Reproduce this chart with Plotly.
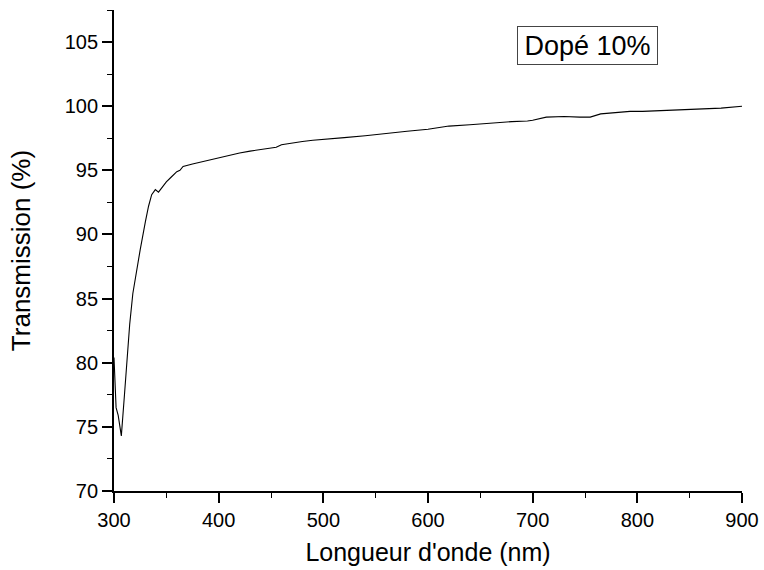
import plotly.graph_objects as go

# Transmission spectrum of the 10% doped film
wavelength_nm = [300, 302, 304, 307, 310, 312, 315, 318, 322, 325, 330, 333, 336,
                 339.5, 342.5, 346, 350, 355, 360, 363, 366, 375, 385, 392, 400,
                 410, 420, 430, 440, 450, 455, 460, 470, 480, 490, 500, 520, 540,
                 560, 580, 600, 615, 620, 640, 660, 680, 695, 700, 713, 730, 745,
                 755, 765, 780, 793, 805, 820, 843, 860, 880, 900]
transmission_pct = [80.4, 76.5, 75.9, 74.3, 77.5, 80.0, 83.0, 85.4, 87.5, 88.8, 91.0,
                    92.2, 93.1, 93.5, 93.3, 93.7, 94.1, 94.5, 94.9, 95.0, 95.3, 95.5,
                    95.7, 95.8, 96.0, 96.2, 96.35, 96.5, 96.6, 96.7, 96.8, 97.0, 97.15,
                    97.25, 97.35, 97.4, 97.55, 97.7, 97.9, 98.05, 98.2, 98.35, 98.45,
                    98.55, 98.7, 98.8, 98.85, 98.9, 99.15, 99.2, 99.15, 99.15, 99.4,
                    99.5, 99.6, 99.6, 99.65, 99.75, 99.8, 99.85, 100.0]

x_ticks = [300, 400, 500, 600, 700, 800, 900]
y_ticks = [70, 75, 80, 85, 90, 95, 100, 105]
sample_label = "Dopé 10%"

FONT = "Arial, Liberation Sans, sans-serif"

fig = go.Figure()
fig.add_trace(go.Scatter(
    x=wavelength_nm, y=transmission_pct, mode="lines",
    line=dict(color="black", width=1.1), showlegend=False,
))

axis_common = dict(
    showline=True, linecolor="black", linewidth=1.8,
    ticks="outside", ticklen=10, tickwidth=1.5, tickcolor="black",
    showgrid=False, zeroline=False,
    tickfont=dict(family=FONT, size=20, color="black"),
)

fig.update_xaxes(
    range=[300, 900], tickvals=x_ticks,
    minor=dict(dtick=50, tick0=300, ticks="outside", ticklen=5, tickwidth=1.3,
               tickcolor="black"),
    title=dict(text="Longueur d'onde (nm)", font=dict(family=FONT, size=25, color="black"),
               standoff=14),
    **axis_common,
)
fig.update_yaxes(
    range=[70, 107.5], tickvals=y_ticks,
    minor=dict(dtick=2.5, tick0=70, ticks="outside", ticklen=5, tickwidth=1.3,
               tickcolor="black"),
    title=dict(text="Transmission (%)", font=dict(family=FONT, size=26, color="black"),
               standoff=27),
    **axis_common,
)

fig.add_annotation(
    x=752, y=104.7, xref="x", yref="y", text=sample_label, showarrow=False,
    font=dict(family=FONT, size=27, color="black"),
    bordercolor="#444444", borderwidth=1, borderpad=1,
    width=137, height=35, bgcolor="white",
)

fig.update_layout(
    width=764, height=570,
    margin=dict(l=114, r=22, t=10, b=79, autoexpand=False),
    plot_bgcolor="white", paper_bgcolor="white",
)

fig.write_html("out.html")
